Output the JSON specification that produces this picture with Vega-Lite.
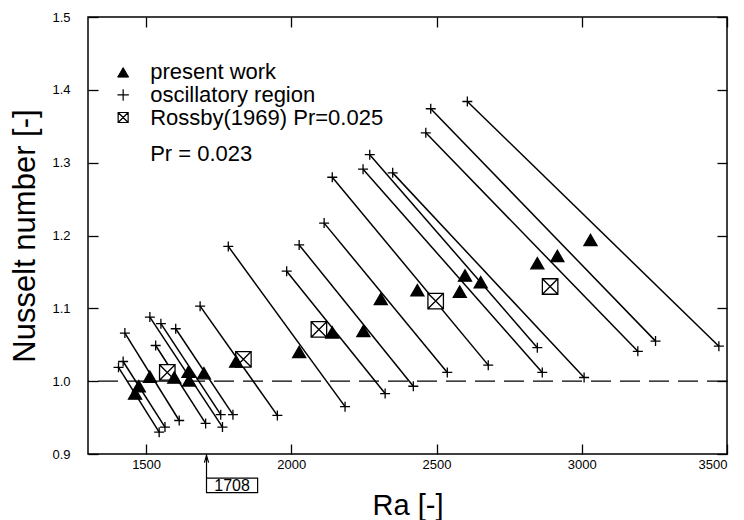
{
  "$schema": "https://vega.github.io/schema/vega-lite/v6.json",
  "width": 639,
  "height": 437,
  "autosize": {"type": "none"},
  "padding": {"left": 88, "top": 17, "right": 17, "bottom": 66},
  "background": "white",
  "config": {
    "view": {"stroke": "black", "strokeWidth": 1.5},
    "font": "Liberation Sans",
    "axis": {
      "grid": false, "domain": false, "tickColor": "black", "tickWidth": 1.3, "tickSize": -10,
      "labelColor": "black", "labelFont": "Liberation Sans", "labelFontSize": 13,
      "titleColor": "black", "titleFont": "Liberation Sans", "titleFontWeight": "normal"
    }
  },
  "datasets": {
    "pts": [
      {"Ra": 1405, "Nu": 1.019, "type": "oscillatory region", "seg": 1},
      {"Ra": 1545, "Nu": 0.930, "type": "oscillatory region", "seg": 1},
      {"Ra": 1421, "Nu": 1.027, "type": "oscillatory region", "seg": 2},
      {"Ra": 1565, "Nu": 0.937, "type": "oscillatory region", "seg": 2},
      {"Ra": 1427, "Nu": 1.066, "type": "oscillatory region", "seg": 3},
      {"Ra": 1614, "Nu": 0.946, "type": "oscillatory region", "seg": 3},
      {"Ra": 1513, "Nu": 1.088, "type": "oscillatory region", "seg": 4},
      {"Ra": 1763, "Nu": 0.937, "type": "oscillatory region", "seg": 4},
      {"Ra": 1551, "Nu": 1.079, "type": "oscillatory region", "seg": 5},
      {"Ra": 1757, "Nu": 0.954, "type": "oscillatory region", "seg": 5},
      {"Ra": 1533, "Nu": 1.049, "type": "oscillatory region", "seg": 6},
      {"Ra": 1705, "Nu": 0.942, "type": "oscillatory region", "seg": 6},
      {"Ra": 1602, "Nu": 1.072, "type": "oscillatory region", "seg": 7},
      {"Ra": 1799, "Nu": 0.954, "type": "oscillatory region", "seg": 7},
      {"Ra": 1686, "Nu": 1.103, "type": "oscillatory region", "seg": 8},
      {"Ra": 1952, "Nu": 0.953, "type": "oscillatory region", "seg": 8},
      {"Ra": 1783, "Nu": 1.185, "type": "oscillatory region", "seg": 9},
      {"Ra": 2185, "Nu": 0.965, "type": "oscillatory region", "seg": 9},
      {"Ra": 1984, "Nu": 1.151, "type": "oscillatory region", "seg": 10},
      {"Ra": 2323, "Nu": 0.983, "type": "oscillatory region", "seg": 10},
      {"Ra": 2027, "Nu": 1.187, "type": "oscillatory region", "seg": 11},
      {"Ra": 2420, "Nu": 0.993, "type": "oscillatory region", "seg": 11},
      {"Ra": 2113, "Nu": 1.217, "type": "oscillatory region", "seg": 12},
      {"Ra": 2537, "Nu": 1.012, "type": "oscillatory region", "seg": 12},
      {"Ra": 2141, "Nu": 1.280, "type": "oscillatory region", "seg": 13},
      {"Ra": 2678, "Nu": 1.022, "type": "oscillatory region", "seg": 13},
      {"Ra": 2247, "Nu": 1.291, "type": "oscillatory region", "seg": 14},
      {"Ra": 2864, "Nu": 1.012, "type": "oscillatory region", "seg": 14},
      {"Ra": 2270, "Nu": 1.311, "type": "oscillatory region", "seg": 15},
      {"Ra": 2847, "Nu": 1.046, "type": "oscillatory region", "seg": 15},
      {"Ra": 2349, "Nu": 1.286, "type": "oscillatory region", "seg": 16},
      {"Ra": 3008, "Nu": 1.005, "type": "oscillatory region", "seg": 16},
      {"Ra": 2463, "Nu": 1.341, "type": "oscillatory region", "seg": 17},
      {"Ra": 3193, "Nu": 1.041, "type": "oscillatory region", "seg": 17},
      {"Ra": 2480, "Nu": 1.374, "type": "oscillatory region", "seg": 18},
      {"Ra": 3254, "Nu": 1.055, "type": "oscillatory region", "seg": 18},
      {"Ra": 2606, "Nu": 1.384, "type": "oscillatory region", "seg": 19},
      {"Ra": 3472, "Nu": 1.048, "type": "oscillatory region", "seg": 19},
      {"Ra": 1573, "Nu": 1.012, "type": "Rossby(1969) Pr=0.025", "seg": 0},
      {"Ra": 1835, "Nu": 1.030, "type": "Rossby(1969) Pr=0.025", "seg": 0},
      {"Ra": 2095, "Nu": 1.071, "type": "Rossby(1969) Pr=0.025", "seg": 0},
      {"Ra": 2497, "Nu": 1.110, "type": "Rossby(1969) Pr=0.025", "seg": 0},
      {"Ra": 2891, "Nu": 1.130, "type": "Rossby(1969) Pr=0.025", "seg": 0},
      {"Ra": 1462, "Nu": 0.983, "type": "present work", "seg": 0},
      {"Ra": 1475, "Nu": 0.993, "type": "present work", "seg": 0},
      {"Ra": 1513, "Nu": 1.006, "type": "present work", "seg": 0},
      {"Ra": 1597, "Nu": 1.005, "type": "present work", "seg": 0},
      {"Ra": 1646, "Nu": 1.013, "type": "present work", "seg": 0},
      {"Ra": 1648, "Nu": 1.001, "type": "present work", "seg": 0},
      {"Ra": 1699, "Nu": 1.011, "type": "present work", "seg": 0},
      {"Ra": 1810, "Nu": 1.027, "type": "present work", "seg": 0},
      {"Ra": 2027, "Nu": 1.040, "type": "present work", "seg": 0},
      {"Ra": 2141, "Nu": 1.067, "type": "present work", "seg": 0},
      {"Ra": 2248, "Nu": 1.069, "type": "present work", "seg": 0},
      {"Ra": 2308, "Nu": 1.113, "type": "present work", "seg": 0},
      {"Ra": 2434, "Nu": 1.125, "type": "present work", "seg": 0},
      {"Ra": 2580, "Nu": 1.123, "type": "present work", "seg": 0},
      {"Ra": 2598, "Nu": 1.145, "type": "present work", "seg": 0},
      {"Ra": 2652, "Nu": 1.136, "type": "present work", "seg": 0},
      {"Ra": 2847, "Nu": 1.162, "type": "present work", "seg": 0},
      {"Ra": 2916, "Nu": 1.172, "type": "present work", "seg": 0},
      {"Ra": 3030, "Nu": 1.194, "type": "present work", "seg": 0}
    ]
  },
  "layer": [
    {
      "data": {"values": [{}]},
      "mark": {"type": "rule", "color": "black", "strokeWidth": 1.3, "strokeDash": [20, 9]},
      "encoding": {
        "y": {"datum": 1.0, "type": "quantitative", "scale": {"domain": [0.9, 1.5], "nice": false, "zero": false}, "axis": null}
      }
    },
    {
      "data": {"name": "pts"},
      "transform": [{"filter": "datum.type === 'oscillatory region'"}],
      "mark": {"type": "line", "color": "black", "strokeWidth": 1.5},
      "encoding": {
        "x": {"field": "Ra", "type": "quantitative", "scale": {"domain": [1300, 3500], "nice": false, "zero": false},
              "axis": {"orient": "top", "labels": false, "title": null, "values": [1500, 2000, 2500, 3000, 3500]}},
        "y": {"field": "Nu", "type": "quantitative", "scale": {"domain": [0.9, 1.5], "nice": false, "zero": false},
              "axis": {"orient": "right", "labels": false, "title": null, "values": [0.9, 1.0, 1.1, 1.2, 1.3, 1.4, 1.5]}},
        "detail": {"field": "seg", "type": "nominal"}
      }
    },
    {
      "data": {"name": "pts"},
      "mark": {"type": "point", "stroke": "black", "strokeWidth": 1.3, "opacity": 1},
      "encoding": {
        "x": {"field": "Ra", "type": "quantitative", "scale": {"domain": [1300, 3500], "nice": false, "zero": false},
              "axis": {"orient": "bottom", "title": "Ra [-]", "titleFontSize": 29, "format": "d", "values": [1500, 2000, 2500, 3000, 3500], "labelPadding": 14, "titlePadding": 20}},
        "y": {"field": "Nu", "type": "quantitative", "scale": {"domain": [0.9, 1.5], "nice": false, "zero": false},
              "axis": {"orient": "left", "title": "Nusselt number [-]", "titleFontSize": 31, "format": ".1f", "values": [0.9, 1.0, 1.1, 1.2, 1.3, 1.4, 1.5], "labelPadding": 28, "titlePadding": 10}},
        "shape": {"field": "type", "type": "nominal",
                  "scale": {"domain": ["present work", "oscillatory region", "Rossby(1969) Pr=0.025"],
                            "range": ["triangle-up", "M-1,0H1M0,-1V1", "M-1,-1H1V1H-1ZM-1,-1L1,1M-1,1L1,-1"]},
                  "legend": null},
        "fill": {"field": "type", "type": "nominal",
                 "scale": {"domain": ["present work", "oscillatory region", "Rossby(1969) Pr=0.025"], "range": ["black", "transparent", "white"]},
                 "legend": null},
        "size": {"field": "type", "type": "nominal",
                 "scale": {"domain": ["oscillatory region", "present work", "Rossby(1969) Pr=0.025"], "range": [100, 240, 300]},
                 "legend": null}
      }
    },
    {
      "data": {"values": [{}]},
      "mark": {"type": "point", "shape": "triangle-up", "size": 120, "fill": "black", "stroke": "black", "strokeWidth": 1, "opacity": 1},
      "encoding": {
        "x": {"datum": 1421, "type": "quantitative", "axis": null},
        "y": {"datum": 1.424, "type": "quantitative", "axis": null}
      }
    },
    {
      "data": {"values": [{}]},
      "mark": {"type": "point", "shape": "M-1,0H1M0,-1V1", "size": 130, "fill": "transparent", "stroke": "black", "strokeWidth": 1.2, "opacity": 1},
      "encoding": {
        "x": {"datum": 1421, "type": "quantitative", "axis": null},
        "y": {"datum": 1.393, "type": "quantitative", "axis": null}
      }
    },
    {
      "data": {"values": [{}]},
      "mark": {"type": "point", "shape": "M-1,-1H1V1H-1ZM-1,-1L1,1M-1,1L1,-1", "size": 100, "fill": "white", "stroke": "black", "strokeWidth": 1.2, "opacity": 1},
      "encoding": {
        "x": {"datum": 1421, "type": "quantitative", "axis": null},
        "y": {"datum": 1.362, "type": "quantitative", "axis": null}
      }
    },
    {
      "data": {"values": [{"label": "present work", "Ra": 1514, "Nu": 1.424}, {"label": "oscillatory region", "Ra": 1514, "Nu": 1.393}, {"label": "Rossby(1969) Pr=0.025", "Ra": 1514, "Nu": 1.362}, {"label": "Pr = 0.023", "Ra": 1514, "Nu": 1.312}]},
      "mark": {"type": "text", "align": "left", "baseline": "middle", "fontSize": 22, "font": "Liberation Sans", "color": "black"},
      "encoding": {
        "x": {"field": "Ra", "type": "quantitative", "axis": null},
        "y": {"field": "Nu", "type": "quantitative", "axis": null},
        "text": {"field": "label"}
      }
    },
    {
      "data": {"values": [{"Ra": 1708, "top": 0.9, "bottom": 0.867}]},
      "mark": {"type": "rule", "color": "black", "strokeWidth": 1.2},
      "encoding": {
        "x": {"field": "Ra", "type": "quantitative", "axis": null},
        "y": {"field": "top", "type": "quantitative", "axis": null},
        "y2": {"field": "bottom"}
      }
    },
    {
      "data": {"values": [{"Ra": 1708, "Nu": 0.893}]},
      "mark": {"type": "point", "shape": "M-0.6,1L0,-1L0.6,1", "size": 50, "stroke": "black", "strokeWidth": 1.2, "fill": "transparent", "opacity": 1},
      "encoding": {
        "x": {"field": "Ra", "type": "quantitative", "axis": null},
        "y": {"field": "Nu", "type": "quantitative", "axis": null}
      }
    },
    {
      "data": {"values": [{"x1": 1708, "x2": 1884, "y1": 0.867, "y2": 0.847}]},
      "mark": {"type": "rect", "fill": "white", "stroke": "black", "strokeWidth": 1.2},
      "encoding": {
        "x": {"field": "x1", "type": "quantitative", "axis": null},
        "x2": {"field": "x2"},
        "y": {"field": "y1", "type": "quantitative", "axis": null},
        "y2": {"field": "y2"}
      }
    },
    {
      "data": {"values": [{"label": "1708", "Ra": 1796, "Nu": 0.8565}]},
      "mark": {"type": "text", "align": "center", "baseline": "middle", "fontSize": 16, "font": "Liberation Sans", "color": "black"},
      "encoding": {
        "x": {"field": "Ra", "type": "quantitative", "axis": null},
        "y": {"field": "Nu", "type": "quantitative", "axis": null},
        "text": {"field": "label"}
      }
    }
  ],
  "resolve": {"axis": {"x": "independent", "y": "independent"}}
}
